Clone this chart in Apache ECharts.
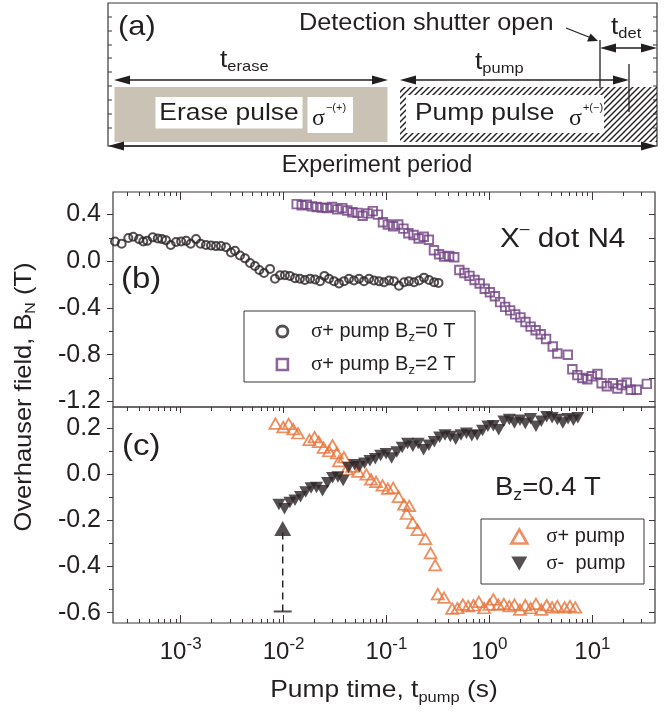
<!DOCTYPE html>
<html>
<head>
<meta charset="utf-8">
<script src="https://cdn.jsdelivr.net/npm/echarts@6/dist/echarts.min.js"></script>
<style>
html, body { margin: 0; padding: 0; background: #fff; }
#chart { width: 669px; height: 714px; }
</style>
</head>
<body>
<div id="chart"></div>
<script>
const FONT = '"Liberation Sans", Arial, Helvetica, sans-serif';
const SERIF = '"Liberation Serif", "Times New Roman", serif';
const INK = '#231f20';
const FRAME = '#3d3739';
const DARK = '#2b2326';
const PURPLE = '#6f3f82';
const ORANGE = '#e8733a';
const CLEAR = 'rgba(255,255,255,0)';
const SX = 1.1;

// (b) sigma+ pump, Bz = 0 T  (time in s, field in T)
const circT = [2.30e-4, 2.67e-4, 3.10e-4, 3.46e-4, 3.94e-4, 4.33e-4, 4.73e-4, 5.35e-4, 5.98e-4, 6.58e-4,
  7.20e-4, 8.00e-4, 9.00e-4, 1.01e-3, 1.13e-3, 1.25e-3, 1.41e-3, 1.56e-3, 1.76e-3, 1.97e-3,
  2.20e-3, 2.46e-3, 2.76e-3, 3.08e-3, 3.37e-3, 3.77e-3, 4.22e-3, 4.72e-3, 5.27e-3, 5.81e-3,
  6.45e-3, 7.38e-3, 8.25e-3, 9.23e-3, 0.0103, 0.0115, 0.0129, 0.0144, 0.0161, 0.0181,
  0.0202, 0.0226, 0.0249, 0.0276, 0.0309, 0.0345, 0.0386, 0.0432, 0.0483, 0.0541,
  0.0604, 0.0676, 0.0756, 0.0845, 0.0946, 0.106, 0.118, 0.132, 0.148, 0.165,
  0.185, 0.207, 0.231, 0.259, 0.290, 0.320];
const circV = [0.17, 0.15, 0.20, 0.21, 0.19, 0.17, 0.175, 0.205, 0.195, 0.19,
  0.18, 0.14, 0.165, 0.17, 0.175, 0.15, 0.19, 0.15, 0.14, 0.135,
  0.13, 0.13, 0.12, 0.075, 0.09, 0.05, 0.025, -0.015, -0.04, -0.075,
  -0.10, -0.065, -0.15, -0.12, -0.12, -0.125, -0.145, -0.15, -0.16, -0.15,
  -0.155, -0.17, -0.125, -0.15, -0.17, -0.19, -0.17, -0.15, -0.165, -0.15,
  -0.17, -0.15, -0.165, -0.17, -0.18, -0.165, -0.17, -0.21, -0.18, -0.17,
  -0.18, -0.165, -0.14, -0.16, -0.18, -0.185];

// (b) sigma+ pump, Bz = 2 T
const sqT = [0.0134, 0.0150, 0.0168, 0.0188, 0.0210, 0.0236, 0.0264, 0.0296, 0.0332, 0.0372,
  0.0416, 0.0466, 0.0523, 0.0586, 0.0656, 0.0735, 0.0824, 0.0923, 0.103, 0.116,
  0.130, 0.146, 0.163, 0.183, 0.205, 0.230, 0.258, 0.289, 0.324, 0.363,
  0.406, 0.455, 0.510, 0.571, 0.640, 0.717, 0.804, 0.900, 1.01, 1.13,
  1.27, 1.42, 1.59, 1.78, 2.00, 2.24, 2.51, 2.81, 3.15, 3.55,
  4.12, 4.57, 5.77, 6.39, 7.15, 8.00, 8.94, 9.87, 11.2, 12.3,
  13.8, 15.8, 17.5, 19.3, 21.6, 23.6, 27.0, 33.8];
const sqV = [0.49, 0.48, 0.485, 0.47, 0.465, 0.46, 0.455, 0.465, 0.445, 0.455,
  0.435, 0.42, 0.415, 0.39, 0.41, 0.43, 0.40, 0.335, 0.315, 0.30,
  0.315, 0.28, 0.24, 0.225, 0.195, 0.21, 0.185, 0.095, 0.06, 0.04,
  0.045, 0.035, -0.075, -0.10, -0.125, -0.16, -0.19, -0.235, -0.265, -0.30,
  -0.35, -0.39, -0.42, -0.455, -0.48, -0.52, -0.56, -0.59, -0.625, -0.665,
  -0.73, -0.79, -0.80, -0.925, -0.975, -1.00, -1.01, -0.985, -0.965, -1.045,
  -1.07, -1.045, -1.09, -1.06, -1.04, -1.10, -1.10, -1.05];

// (c) Bz = 0.4 T, sigma+ pump
const upT = [0.00832, 0.00992, 0.0112, 0.0124, 0.0138, 0.0178, 0.0200, 0.0220, 0.0245, 0.0276,
  0.0299, 0.0329, 0.0345, 0.0386, 0.0411, 0.0464, 0.0531, 0.0637, 0.0707, 0.0791,
  0.0914, 0.103, 0.116, 0.131, 0.148, 0.157, 0.166, 0.180, 0.200, 0.238,
  0.268, 0.297, 0.315, 0.362, 0.434, 0.489, 0.551, 0.621, 0.700, 0.789,
  0.889, 1.00, 1.09, 1.22, 1.38, 1.56, 1.75, 1.98, 2.23, 2.51,
  2.83, 3.19, 3.60, 4.06, 4.57, 5.37, 6.05, 6.82];
const upV = [0.220, 0.205, 0.219, 0.196, 0.178, 0.149, 0.161, 0.141, 0.116, 0.101,
  0.126, 0.092, 0.057, 0.074, 0.022, 0.033, 0.012, 0.000, -0.022, -0.033,
  -0.048, -0.062, -0.059, -0.098, -0.131, -0.171, -0.137, -0.211, -0.241, -0.280,
  -0.342, -0.394, -0.520, -0.535, -0.583, -0.580, -0.565, -0.572, -0.568, -0.553,
  -0.580, -0.565, -0.543, -0.565, -0.562, -0.572, -0.565, -0.587, -0.568, -0.580,
  -0.562, -0.587, -0.568, -0.577, -0.572, -0.577, -0.572, -0.577];

// (c) Bz = 0.4 T, sigma- pump
const dnT = [0.0090, 0.0102, 0.0115, 0.0129, 0.0146, 0.0164, 0.0185, 0.0209, 0.0239, 0.0267,
  0.0299, 0.0337, 0.0379, 0.0428, 0.0490, 0.0544, 0.0612, 0.0690, 0.0778, 0.0877,
  0.0990, 0.112, 0.126, 0.142, 0.160, 0.180, 0.203, 0.229, 0.258, 0.291,
  0.328, 0.370, 0.417, 0.470, 0.530, 0.598, 0.674, 0.760, 0.857, 0.966,
  1.09, 1.23, 1.38, 1.56, 1.75, 1.98, 2.23, 2.51, 2.83, 3.19,
  3.60, 4.06, 4.57, 5.16, 5.81, 6.55, 7.23];
const dnV = [-0.131, -0.149, -0.122, -0.112, -0.097, -0.077, -0.059, -0.057, -0.071, -0.037,
  -0.015, -0.012, -0.027, 0.030, 0.042, 0.033, 0.048, 0.059, 0.067, 0.082,
  0.089, 0.071, 0.097, 0.116, 0.134, 0.122, 0.134, 0.107, 0.126, 0.141,
  0.161, 0.171, 0.164, 0.152, 0.171, 0.178, 0.167, 0.171, 0.190, 0.208,
  0.211, 0.193, 0.230, 0.238, 0.223, 0.235, 0.220, 0.241, 0.208, 0.230,
  0.250, 0.245, 0.238, 0.223, 0.241, 0.235, 0.245];

// dashed jump marker in (c)
const jumpT = 0.0098;
const jumpFrom = -0.595;
const jumpTo = -0.235;

// axes
const X_MIN = 2.2e-4, X_MAX = 40.6;
const xMajor = [0.001, 0.01, 0.1, 1, 10];
const xMinor = [3e-4, 4e-4, 5e-4, 6e-4, 7e-4, 8e-4, 9e-4,
  0.002, 0.003, 0.004, 0.005, 0.006, 0.007, 0.008, 0.009,
  0.02, 0.03, 0.04, 0.05, 0.06, 0.07, 0.08, 0.09,
  0.2, 0.3, 0.4, 0.5, 0.6, 0.7, 0.8, 0.9,
  2, 3, 4, 5, 6, 7, 8, 9, 20, 30];
const B_MIN = -1.248, B_MAX = 0.5935;
const bMajor = [-1.2, -0.8, -0.4, 0, 0.4];
const bMinor = [-1.0, -0.6, -0.2, 0.2];
const C_MIN = -0.645, C_MAX = 0.292;
const cMajor = [-0.6, -0.4, -0.2, 0, 0.2];
const cMinor = [-0.5, -0.3, -0.1, 0.1];

const legendText = {
  b0: '{g|σ}+ pump B{s|z}=0 T',
  b2: '{g|σ}+ pump B{s|z}=2 T',
  sp: '{g|σ}+ pump',
  sm: '{g|σ}-  pump'
};

const chart = echarts.init(document.getElementById('chart'), null, { renderer: 'canvas' });
window.addEventListener('resize', function () { chart.resize(); });

function pairs(xs, ys) { return xs.map((x, i) => [x, ys[i]]); }

const tickLine = { color: FRAME, width: 1 };

function logAxis(grid, position, ticks, len, extra) {
  return Object.assign({
    type: 'log', logBase: 10, gridIndex: grid, position: position,
    min: X_MIN, max: X_MAX,
    axisLine: { show: false, onZero: false },
    axisTick: { show: true, inside: true, length: len, customValues: ticks, lineStyle: tickLine },
    axisLabel: { show: false },
    splitLine: { show: false }
  }, extra || {});
}

function valAxis(grid, position, min, max, ticks, len, inside, extra) {
  return Object.assign({
    type: 'value', gridIndex: grid, position: position, min: min, max: max,
    axisLine: { show: false, onZero: false },
    axisTick: { show: true, inside: inside, length: len, customValues: ticks, lineStyle: tickLine },
    axisLabel: { show: false },
    splitLine: { show: false }
  }, extra || {});
}

function yLabels(ticks) {
  return {
    axisLabel: {
      show: true, customValues: ticks, margin: 12,
      color: INK, fontFamily: FONT, fontSize: 25,
      formatter: v => (Math.abs(v) < 1e-9 ? 0 : v).toFixed(1)
    }
  };
}

const xLabelRich = {
  m: { fontFamily: FONT, fontSize: 24, color: INK },
  e: { fontFamily: FONT, fontSize: 17, color: INK, padding: [0, 0, 16, 0] }
};

// hatch pattern for the pump pulse box
const hatch = document.createElement('canvas');
hatch.width = 6; hatch.height = 6;
(function () {
  const g = hatch.getContext('2d');
  g.strokeStyle = INK; g.lineWidth = 1.4;
  g.beginPath();
  g.moveTo(-1, 7); g.lineTo(7, -1);
  g.moveTo(-4, 4); g.lineTo(4, -4);
  g.moveTo(2, 10); g.lineTo(10, 2);
  g.stroke();
})();

function hArrow(x1, x2, y, lw) {
  const hl = 16, hw = 4.5;
  return [
    { type: 'line', shape: { x1: x1 + hl - 2, y1: y, x2: x2 - hl + 2, y2: y }, style: { stroke: INK, lineWidth: lw } },
    { type: 'polygon', shape: { points: [[x1, y], [x1 + hl, y - hw], [x1 + hl, y + hw]] }, style: { fill: INK } },
    { type: 'polygon', shape: { points: [[x2, y], [x2 - hl, y - hw], [x2 - hl, y + hw]] }, style: { fill: INK } }
  ];
}

function label(x, y, text, size, align, rich, extra) {
  return Object.assign({
    type: 'text', x: x, y: y, scaleX: SX,
    style: {
      text: text, fontFamily: FONT, fontSize: size, fill: INK,
      align: align || 'left', verticalAlign: 'middle', rich: rich || {}
    }
  }, extra || {});
}

const subRich = (size, pad) => ({
  m: { fontFamily: FONT, fontSize: size, fill: INK },
  s: { fontFamily: FONT, fontSize: Math.round(size * 0.62), fill: INK, padding: [pad, 0, 0, 0] }
});

const sigmaRich = {
  g: { fontFamily: SERIF, fontSize: 24, fill: INK },
  p: { fontFamily: FONT, fontSize: 11, fill: INK, padding: [0, 0, 22, 1] }
};

const frameTicks = [];
[17, 31, 45, 58, 72, 86, 100, 114, 128].forEach(y => {
  frameTicks.push({ type: 'line', shape: { x1: 108, y1: y, x2: 112, y2: y }, style: { stroke: FRAME, lineWidth: 1 } });
  frameTicks.push({ type: 'line', shape: { x1: 653, y1: y, x2: 657, y2: y }, style: { stroke: FRAME, lineWidth: 1 } });
});

const graphicA = [
  { type: 'rect', shape: { x: 108, y: 3, width: 549, height: 143 }, style: { fill: 'none', stroke: FRAME, lineWidth: 1.2 } },
  ...frameTicks,
  // erase pulse
  { type: 'rect', shape: { x: 114.5, y: 87, width: 273, height: 55 }, style: { fill: '#cbc2b6' } },
  { type: 'rect', shape: { x: 155.5, y: 97, width: 147, height: 31.5 }, style: { fill: '#fff' } },
  { type: 'rect', shape: { x: 307.5, y: 97, width: 45.5, height: 36 }, style: { fill: '#fff' } },
  label(229, 113, 'Erase pulse', 24, 'center'),
  label(312, 119, '{g|σ}{p|−(+)}', 24, 'left', sigmaRich, { scaleX: 1 }),
  // pump pulse
  { type: 'rect', shape: { x: 400, y: 87, width: 257, height: 55 }, style: { fill: { image: hatch, repeat: 'repeat' } } },
  { type: 'rect', shape: { x: 406, y: 95, width: 198, height: 38 }, style: { fill: '#fff' } },
  label(415, 113, 'Pump pulse', 24, 'left'),
  label(569, 119, '{g|σ}{p|+(−)}', 24, 'left', sigmaRich, { scaleX: 1 }),
  // timing marks
  { type: 'line', shape: { x1: 600, y1: 40, x2: 600, y2: 88 }, style: { stroke: INK, lineWidth: 1.3 } },
  { type: 'line', shape: { x1: 629, y1: 64, x2: 629, y2: 112 }, style: { stroke: INK, lineWidth: 1.3 } },
  ...hArrow(114, 388, 80, 1.5),
  ...hArrow(400, 629, 80, 1.5),
  ...hArrow(600, 657, 48, 1.5),
  ...hArrow(108, 657, 146, 1.5),
  { type: 'line', shape: { x1: 566, y1: 28, x2: 590, y2: 37.5 }, style: { stroke: INK, lineWidth: 1.3 } },
  { type: 'polygon', shape: { points: [[598, 41], [587, 41.5], [590.5, 33.5]] }, style: { fill: INK } },
  // texts
  label(118, 27, '(a)', 28, 'left'),
  label(299, 24, 'Detection shutter open', 23, 'left'),
  label(611, 27, '{m|t}{s|det}', 24, 'left', subRich(24, 14)),
  label(220, 60, '{m|t}{s|erase}', 24, 'left', subRich(24, 14)),
  label(475, 62, '{m|t}{s|pump}', 24, 'left', subRich(24, 14)),
  label(377, 166, 'Experiment period', 23, 'center', null, { scaleX: 1.02 })
];

const graphicBC = [
  { type: 'rect', shape: { x: 244, y: 311, width: 231, height: 71 }, style: { fill: '#fff', stroke: FRAME, lineWidth: 1 }, z: 5 },
  { type: 'rect', shape: { x: 481, y: 519, width: 163, height: 65 }, style: { fill: '#fff', stroke: FRAME, lineWidth: 1 }, z: 5 },
  label(121, 280, '(b)', 30, 'left'),
  label(122, 447, '(c)', 30, 'left'),
  label(500, 240, '{m|X}{p|–}{m| dot N4}', 27, 'left', {
    m: { fontFamily: FONT, fontSize: 27, fill: INK },
    p: { fontFamily: FONT, fontSize: 16, fill: INK, padding: [0, 0, 20, 0] }
  }),
  label(495, 488, '{m|B}{s|z}{m|=0.4 T}', 25, 'left', subRich(25, 16)),
  label(24, 397, '{m|Overhauser field, B}{s|N}{m| (T)}', 24, 'center', subRich(24, 14), { rotation: Math.PI / 2, scaleX: 1.06 }),
  label(384, 690, '{m|Pump time, t}{s|pump}{m| (s)}', 24, 'center', subRich(24, 15), { scaleX: 1.1 })
];

const legendRich = {
  g: { fontFamily: SERIF, fontSize: 21, color: INK },
  s: { fontFamily: FONT, fontSize: 13, color: INK, padding: [12, 0, 0, 0] }
};

const option = {
  animation: false,
  backgroundColor: '#fff',
  grid: [
    { left: 113, top: 192, width: 542, height: 215, show: true, borderColor: FRAME, borderWidth: 1.2, backgroundColor: 'transparent', containLabel: false, outerBoundsMode: 'none' },
    { left: 113, top: 407, width: 542, height: 216, show: true, borderColor: FRAME, borderWidth: 1.2, backgroundColor: 'transparent', containLabel: false, outerBoundsMode: 'none' }
  ],
  xAxis: [
    logAxis(0, 'top', xMajor, 8),
    logAxis(0, 'top', xMinor, 4),
    logAxis(1, 'bottom', xMajor, 8, {
      axisLabel: {
        show: true, customValues: xMajor, margin: 13,
        formatter: v => '{m|10}{e|' + Math.round(Math.log10(v)) + '}',
        rich: xLabelRich
      }
    }),
    logAxis(1, 'bottom', xMinor, 4),
    logAxis(1, 'top', xMajor, 6),
    logAxis(1, 'top', xMinor, 4)
  ],
  yAxis: [
    valAxis(0, 'left', B_MIN, B_MAX, bMajor, 6, false, yLabels(bMajor)),
    valAxis(0, 'left', B_MIN, B_MAX, bMinor, 4, false),
    valAxis(0, 'right', B_MIN, B_MAX, bMajor.concat(bMinor), 6, true),
    valAxis(1, 'left', C_MIN, C_MAX, cMajor, 6, false, yLabels(cMajor)),
    valAxis(1, 'left', C_MIN, C_MAX, cMinor, 4, false),
    valAxis(1, 'right', C_MIN, C_MAX, cMajor.concat(cMinor), 6, true)
  ],
  legend: [
    {
      data: [
        { name: 'b0', icon: 'circle', itemStyle: { color: CLEAR, borderColor: DARK, borderWidth: 2.8 } },
        { name: 'b2', icon: 'rect', itemStyle: { color: CLEAR, borderColor: PURPLE, borderWidth: 2.6 } }
      ],
      orient: 'vertical', left: 275.5, top: 321, padding: 0,
      itemWidth: 11, itemHeight: 11, itemGap: 10, selectedMode: false, z: 6,
      formatter: n => legendText[n],
      textStyle: { fontFamily: FONT, fontSize: 20, color: INK, padding: [0, 0, 0, 18], rich: legendRich }
    },
    {
      data: [
        { name: 'sp', icon: 'triangle', itemStyle: { color: CLEAR, borderColor: ORANGE, borderWidth: 2.6 } },
        { name: 'sm', icon: 'path://M0,0L16,0L8,14Z', itemStyle: { color: DARK } }
      ],
      orient: 'vertical', left: 510, top: 526, padding: 0,
      itemWidth: 16, itemHeight: 14, itemGap: 6, selectedMode: false, z: 6,
      formatter: n => legendText[n],
      textStyle: { fontFamily: FONT, fontSize: 20, color: INK, padding: [0, 0, 0, 14], rich: legendRich }
    }
  ],
  series: [
    {
      name: 'b0', type: 'scatter', xAxisIndex: 0, yAxisIndex: 0, silent: true,
      data: pairs(circT, circV), symbol: 'circle', symbolSize: 8,
      itemStyle: { color: CLEAR, borderColor: DARK, borderWidth: 2 }
    },
    {
      name: 'b2', type: 'scatter', xAxisIndex: 0, yAxisIndex: 0, silent: true,
      data: pairs(sqT, sqV), symbol: 'rect', symbolSize: 8.5,
      itemStyle: { color: CLEAR, borderColor: PURPLE, borderWidth: 1.9 }
    },
    {
      name: 'sp', type: 'scatter', xAxisIndex: 2, yAxisIndex: 3, silent: true,
      data: pairs(upT, upV), symbol: 'triangle', symbolSize: [12, 10.5],
      itemStyle: { color: CLEAR, borderColor: ORANGE, borderWidth: 1.8 }
    },
    {
      name: 'sm', type: 'scatter', xAxisIndex: 2, yAxisIndex: 3, silent: true,
      data: pairs(dnT, dnV), symbol: 'triangle', symbolRotate: 180, symbolSize: [13, 11.5],
      itemStyle: { color: DARK }
    },
    {
      type: 'line', xAxisIndex: 2, yAxisIndex: 3, silent: true, z: 2,
      data: [[jumpT, jumpFrom], [jumpT, jumpTo]], symbol: 'none',
      lineStyle: { color: DARK, width: 1.5, type: [7, 5] }
    },
    {
      type: 'scatter', xAxisIndex: 2, yAxisIndex: 3, silent: true,
      data: [[jumpT, jumpFrom]], symbol: 'rect', symbolSize: [18, 2],
      itemStyle: { color: DARK }
    },
    {
      type: 'scatter', xAxisIndex: 2, yAxisIndex: 3, silent: true, z: 4,
      data: [[jumpT, jumpTo]], symbol: 'triangle', symbolSize: [17, 15],
      itemStyle: { color: DARK }
    }
  ],
  graphic: graphicA.concat(graphicBC)
};

chart.setOption(option);
</script>
</body>
</html>
